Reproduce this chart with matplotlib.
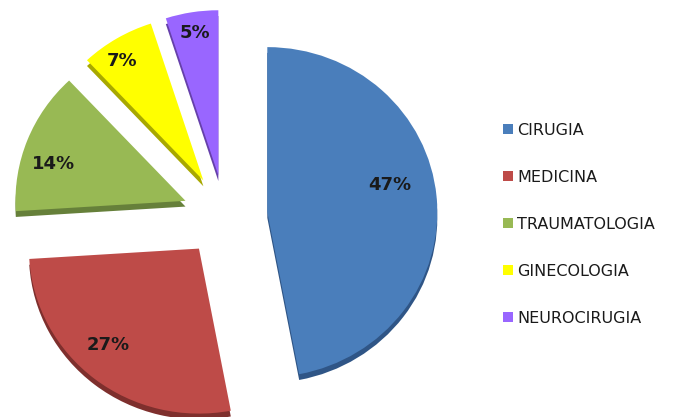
import numpy as np
import matplotlib.pyplot as plt
from matplotlib.patches import Patch

# servicios y porcentajes
servicios = ['CIRUGIA', 'MEDICINA', 'TRAUMATOLOGIA', 'GINECOLOGIA', 'NEUROCIRUGIA']
porcentajes = [47, 27, 14, 7, 5]
colores = ['#4A7EBB', '#BE4B48', '#98B954', '#FFFF00', '#9966FF']
sombras = ['#2F5586', '#7E2F2D', '#66803A', '#A8A800', '#6640AA']

plt.rcParams['font.family'] = ['DejaVu Sans']

fig = plt.figure(figsize=(6.78, 4.17), dpi=100)
# centro del pastel ~ (225, 216) px, radio 170 px horizontal, 165 px vertical
rx, ry = 170, 165
cx, cy = 225, 417 - 216
lim = 1.4
ax = fig.add_axes([(cx - lim * rx) / 678, (cy - lim * ry) / 417,
                   2 * lim * rx / 678, 2 * lim * ry / 417])

explode = [0.25] * len(porcentajes)

# sombra (efecto 3D)
ax.pie(porcentajes, colors=sombras, explode=explode, startangle=90,
       counterclock=False, center=(0.0, -0.035),
       wedgeprops=dict(linewidth=0))

wedges, textos, pcts = ax.pie(porcentajes, colors=colores, explode=explode,
                              startangle=90, counterclock=False,
                              autopct='%1.0f%%', pctdistance=0.8,
                              wedgeprops=dict(linewidth=0))

# colocacion fina de las etiquetas (distancia y giro respecto a la bisectriz)
dist = [0.74, 0.79, 0.81, 0.87, 0.87]
giro = [7.5, -4.7, 5.6, 2.7, 0.0]
for w, t, d, g, e in zip(wedges, pcts, dist, giro, explode):
    ang = np.deg2rad((w.theta1 + w.theta2) / 2)
    cx0, cy0 = e * np.cos(ang), e * np.sin(ang)
    a2 = ang + np.deg2rad(g)
    t.set_position((cx0 + d * np.cos(a2), cy0 + d * np.sin(a2)))
    t.set_fontsize(13)
    t.set_fontweight('bold')
    t.set_color('#1a1a1a')

ax.set_xlim(-lim, lim)
ax.set_ylim(-lim, lim)
ax.set_aspect('auto')
ax.axis('off')

handles = [Patch(facecolor=c, edgecolor='none') for c in colores]
fig.legend(handles, servicios, loc='upper left', bbox_to_anchor=(503 / 678, 1 - 123 / 417),
           frameon=False, fontsize=11.5, labelspacing=2.0, handlelength=0.6,
           handleheight=0.6, handletextpad=0.3, borderaxespad=0, borderpad=0,
           labelcolor='#1a1a1a')

fig.savefig('out.png', dpi=100)
